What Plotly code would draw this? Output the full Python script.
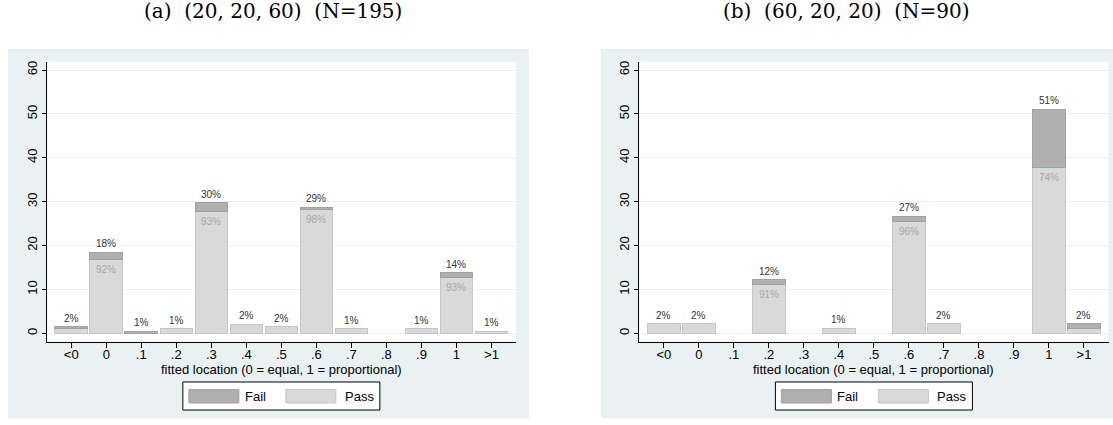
import plotly.graph_objects as go

# Bins of the fitted location parameter
categories = ["<0", "0", ".1", ".2", ".3", ".4", ".5", ".6", ".7", ".8", ".9", "1", ">1"]

# Panel (a): treatment (20, 20, 60)
n_a = 195
pass_a = [2, 33, 0, 2, 54, 4, 3, 55, 2, 0, 2, 25, 1]
fail_a = [1, 3, 1, 0, 4, 0, 0, 1, 0, 0, 0, 2, 0]

# Panel (b): treatment (60, 20, 20)
n_b = 90
pass_b = [2, 2, 0, 10, 0, 1, 0, 23, 2, 0, 0, 34, 1]
fail_b = [0, 0, 0, 1, 0, 0, 0, 1, 0, 0, 0, 12, 1]

titles = ["(a)\u00a0\u00a0(20,\u00a020,\u00a060)\u00a0\u00a0(N=195)",
          "(b)\u00a0\u00a0(60,\u00a020,\u00a020)\u00a0\u00a0(N=90)"]
y_ticks = [0, 10, 20, 30, 40, 50, 60]
x_title = "fitted location (0 = equal, 1 = proportional)"

W, H = 1113, 425
FAIL_COL, FAIL_LINE = "#b0b0b0", "#a2a2a2"
PASS_COL, PASS_LINE = "#d9d9d9", "#c6c6c6"
REGION = "#eaf1f3"
SANS = "Liberation Sans, Arial, sans-serif"


def px(x):
    return x / W


def py(y):
    return 1 - y / H


# panel geometry in pixels: background region, plot region
panels = [
    dict(bg=(8, 49, 529, 418), plot=(46.7, 61.7, 516.0, 341.7), title_x=272.5),
    dict(bg=(601, 49, 1113, 418), plot=(639.3, 61.7, 1108.5, 341.7), title_x=846.0),
]
data = [(n_a, pass_a, fail_a), (n_b, pass_b, fail_b)]

fig = go.Figure()
shapes = []
annotations = []

for i, (panel, (n, p_cnt, f_cnt)) in enumerate(zip(panels, data)):
    xa = "x" if i == 0 else "x2"
    ya = "y" if i == 0 else "y2"
    pass_pct = [c / n * 100 for c in p_cnt]
    fail_pct = [c / n * 100 for c in f_cnt]
    tot_pct = [a + b for a, b in zip(pass_pct, fail_pct)]

    fig.add_trace(go.Bar(
        x=categories, y=[v if v > 0 else None for v in pass_pct],
        marker=dict(color=PASS_COL, line=dict(color=PASS_LINE, width=1)),
        xaxis=xa, yaxis=ya, showlegend=False, hoverinfo="skip"))
    fig.add_trace(go.Bar(
        x=categories, y=[v if v > 0 else None for v in fail_pct],
        marker=dict(color=FAIL_COL, line=dict(color=FAIL_LINE, width=1)),
        xaxis=xa, yaxis=ya, showlegend=False, hoverinfo="skip"))

    # category axis: annotations are placed by category index
    for j, (pp, t) in enumerate(zip(pass_pct, tot_pct)):
        if t <= 0:
            continue
        # share of all subjects in the bin, above the bar
        annotations.append(dict(xref=xa, yref=ya, x=j, y=t, yshift=8.5,
                                text=f"{round(t)}%", showarrow=False,
                                xanchor="center", yanchor="middle",
                                font=dict(family=SANS, size=10, color="#333333")))
        # share passing within the larger bins
        if t >= 5:
            annotations.append(dict(xref=xa, yref=ya, x=j, y=pp, yshift=-10,
                                    text=f"{round(pp / t * 100)}%", showarrow=False,
                                    xanchor="center", yanchor="middle",
                                    font=dict(family=SANS, size=10, color="#a8a8a8")))

    bx0, by0, bx1, by1 = panel["bg"]
    qx0, qy0, qx1, qy1 = panel["plot"]
    shapes.append(dict(type="rect", xref="paper", yref="paper", layer="below",
                       x0=px(bx0), x1=px(bx1), y0=py(by1), y1=py(by0),
                       fillcolor=REGION, line=dict(width=0)))
    shapes.append(dict(type="rect", xref="paper", yref="paper", layer="below",
                       x0=px(qx0), x1=px(qx1), y0=py(qy1), y1=py(qy0),
                       fillcolor="white", line=dict(width=0)))

    dom_x = [px(qx0), px(qx1)]
    dom_y = [py(qy1), py(qy0)]
    axis_x = dict(domain=dom_x, anchor=ya, type="category", categoryorder="array",
                  categoryarray=categories, range=[-0.7, 12.7],
                  showline=True, linecolor="black", linewidth=1,
                  ticks="outside", ticklen=5, tickcolor="black", tickwidth=1,
                  ticklabelstandoff=-4,
                  showgrid=False, zeroline=False,
                  tickfont=dict(family=SANS, size=13, color="black"))
    axis_y = dict(domain=dom_y, anchor=xa, range=[-1.91, 61.9],
                  tickvals=y_ticks, tickangle=-90,
                  showline=True, linecolor="black", linewidth=1,
                  ticks="outside", ticklen=4, tickcolor="black", tickwidth=1,
                  showgrid=True, gridcolor=REGION, gridwidth=1, zeroline=False,
                  tickfont=dict(family=SANS, size=13, color="black"))
    if i == 0:
        fig.update_layout(xaxis=axis_x, yaxis=axis_y)
    else:
        fig.update_layout(xaxis2=axis_x, yaxis2=axis_y)

    cx = (qx0 + qx1) / 2
    # axis title
    annotations.append(dict(xref="paper", yref="paper", x=px(cx), y=py(369),
                            text=x_title, showarrow=False, xanchor="center", yanchor="middle",
                            font=dict(family=SANS, size=13, color="black")))
    # panel caption
    annotations.append(dict(xref="paper", yref="paper", x=px(panel["title_x"]), y=py(11),
                            text=titles[i], showarrow=False, xanchor="center", yanchor="middle",
                            font=dict(family="DejaVu Serif, serif", size=20, color="black")))

    # legend box
    lx0 = cx - 98.5
    ly0, ly1 = 382, 410
    shapes.append(dict(type="rect", xref="paper", yref="paper",
                       x0=px(lx0), x1=px(lx0 + 197), y0=py(ly1), y1=py(ly0),
                       fillcolor="white", line=dict(color="black", width=1)))
    for off, col, lc, lab, toff in [(6, FAIL_COL, FAIL_LINE, "Fail", 60),
                                    (103, PASS_COL, PASS_LINE, "Pass", 160)]:
        shapes.append(dict(type="rect", xref="paper", yref="paper",
                           x0=px(lx0 + off), x1=px(lx0 + off + 50),
                           y0=py(403), y1=py(389.5),
                           fillcolor=col, line=dict(color=lc, width=1)))
        annotations.append(dict(xref="paper", yref="paper", x=px(lx0 + toff), y=py(396.5),
                                text=lab, showarrow=False, xanchor="left", yanchor="middle",
                                font=dict(family=SANS, size=13, color="black")))

fig.update_layout(
    width=W, height=H, margin=dict(l=0, r=0, t=0, b=0),
    paper_bgcolor="white", plot_bgcolor="white",
    barmode="stack", bargap=0.07,
    shapes=shapes, annotations=annotations, showlegend=False,
)

fig.write_html("out.html")
